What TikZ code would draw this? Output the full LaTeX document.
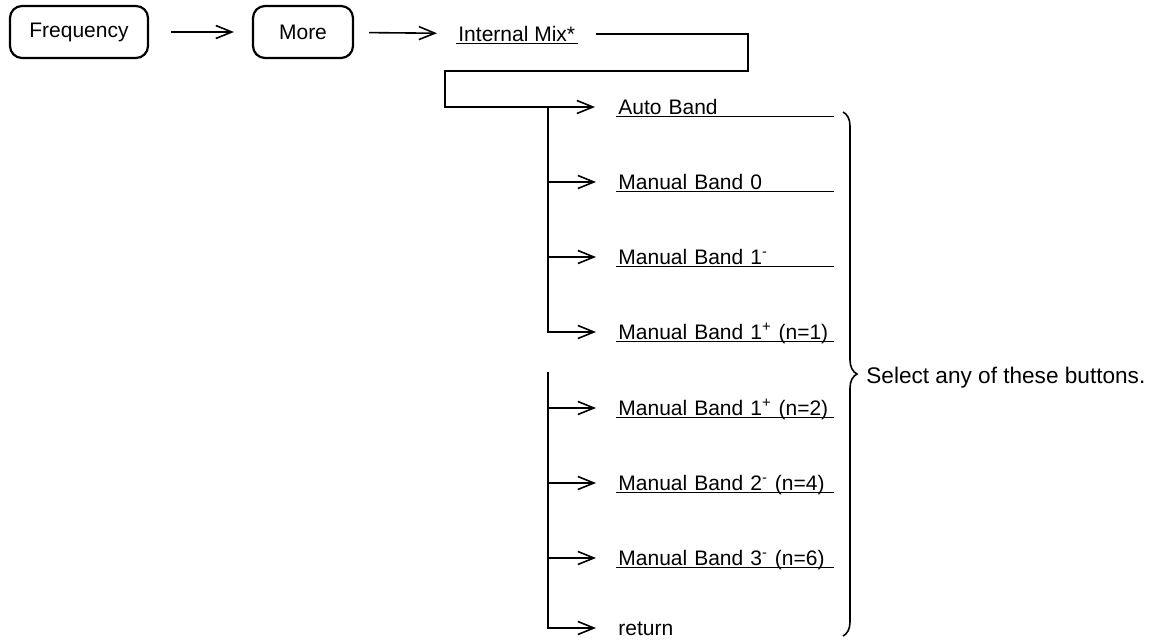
\documentclass[tikz,border=0pt]{standalone}
\usepackage{fontspec}
\setmainfont{Liberation Sans}
\usetikzlibrary{arrows.meta,decorations.pathreplacing}

\begin{document}
\begin{tikzpicture}[x=0.5pt,y=-0.5pt,font=\fontsize{10.5}{12}\selectfont,
 key/.style={draw,line width=1.1pt,rounded corners=6pt,minimum height=26pt,inner sep=2pt},
 ulabel/.style={anchor=west,inner xsep=1pt,inner ysep=0.5pt,text height=7.6pt,text depth=0.5pt},
 btn/.style={ulabel,text width=106.5pt,align=left},
 arr/.style={-{Straight Barb[length=8pt,width=6.5pt]},line width=0.8pt},
 wire/.style={line width=0.8pt},
 uline/.style={line width=0.8pt}]
 \useasboundingbox (0,0) rectangle (1154,640);
 % soft keys
 \node[key,minimum width=69pt] (freq) at (79,32) {Frequency};
 \node[key,minimum width=50pt] (more) at (303,32) {More};
 \node[ulabel] (imix) at (456,34) {Internal Mix*};
 \draw[uline] (imix.south west)--(imix.south east);
 \draw[arr,shorten <=11pt,shorten >=9pt] (freq)--(more);
 \draw[arr,shorten <=7.5pt,shorten >=9.5pt] (more)--(imix);
 % band buttons
 \node[btn] (r1) at (616,107) {Auto Band};
 \node[btn] (r2) at (616,182) {Manual Band 0};
 \node[btn] (r3) at (616,257) {Manual Band 1\textsuperscript{-}};
 \node[btn] (r4) at (616,332) {Manual Band 1\textsuperscript{+} (n=1)};
 \node[btn] (r5) at (616,408) {Manual Band 1\textsuperscript{+} (n=2)};
 \node[btn] (r6) at (616,483) {Manual Band 2\textsuperscript{-} (n=4)};
 \node[btn] (r7) at (616,558) {Manual Band 3\textsuperscript{-} (n=6)};
 \node[btn] (r8) at (616,628) {return};
 \foreach \r in {r1,r2,r3,r4,r5,r6,r7}
  \draw[uline] (\r.south west)--(\r.south east);
 % feed from Internal Mix*
 \coordinate (c1) at (748,71);
 \coordinate (c2) at (445,71);
 \coordinate (t1) at (548,107);
 \coordinate (t2) at (548,372);
 \draw[arr,shorten <=9pt,shorten >=10.5pt] (imix.east) -| (c1) -- (c2) |- (r1.west);
 \draw[arr,shorten >=10pt] (t1) |- (r4.west);
 \draw[arr,shorten >=10pt] (r2.west -| t1)--(r2.west);
 \draw[arr,shorten >=10pt] (r3.west -| t1)--(r3.west);
 \draw[arr,shorten >=10pt] (t2) |- (r8.west);
 \draw[arr,shorten >=10pt] (r5.west -| t2)--(r5.west);
 \draw[arr,shorten >=10pt] (r6.west -| t2)--(r6.west);
 \draw[arr,shorten >=10pt] (r7.west -| t2)--(r7.west);
 % brace
 \coordinate (bt) at (843,112);
 \coordinate (bb) at (843,636);
 \draw[wire,decorate,decoration={brace,amplitude=7pt}] (bt)--(bb);
 \node[ulabel,font=\fontsize{11.3}{13}\selectfont] (sel) at (864,376) {Select any of these buttons.};
\end{tikzpicture}
\end{document}
